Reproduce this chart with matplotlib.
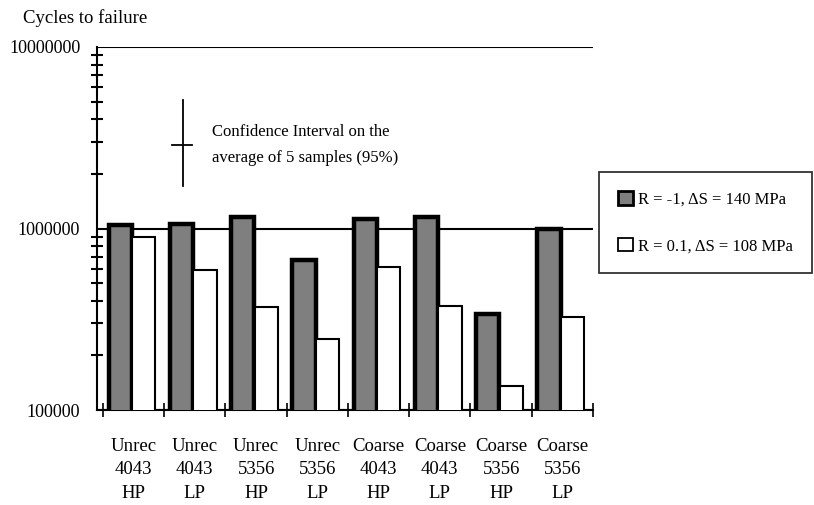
"""Cycles to failure for unrecrystallised / coarse welds, two loading conditions."""

import matplotlib

matplotlib.use("Agg")
import matplotlib.pyplot as plt
from matplotlib.patches import Patch
import numpy as np

plt.rcParams["font.family"] = ["Liberation Serif", "DejaVu Serif"]

CATEGORIES = [
    "Unrec\n4043\nHP", "Unrec\n4043\nLP", "Unrec\n5356\nHP", "Unrec\n5356\nLP",
    "Coarse\n4043\nHP", "Coarse\n4043\nLP", "Coarse\n5356\nHP", "Coarse\n5356\nLP",
]
# R = -1, dS = 140 MPa
CYCLES_R_NEG1 = [1.05e6, 1.06e6, 1.15e6, 6.7e5, 1.13e6, 1.15e6, 3.4e5, 1.0e6]
# R = 0.1, dS = 108 MPa
CYCLES_R_01 = [9.0e5, 5.9e5, 3.7e5, 2.45e5, 6.1e5, 3.75e5, 1.35e5, 3.25e5]
LABEL_R_NEG1 = "R = -1, \u0394S = 140 MPa"
LABEL_R_01 = "R = 0.1, \u0394S = 108 MPa"

DARK = "#7f7f7f"

fig = plt.figure(figsize=(8.14, 5.05), dpi=100)
ax = fig.add_axes([0.119, 0.188, 0.6095, 0.719])

x = np.arange(len(CATEGORIES))
ax.bar(x + 0.28, CYCLES_R_NEG1, width=0.38, color=DARK,
       edgecolor="black", linewidth=3.2, zorder=3)
ax.bar(x + 0.665, CYCLES_R_01, width=0.38, color="white",
       edgecolor="black", linewidth=1.5, zorder=3)

ax.set_yscale("log")
ax.set_ylim(1e5, 1e7)
ax.set_xlim(-0.1, len(CATEGORIES))
ax.set_axisbelow(True)
ax.yaxis.grid(True, which="major", color="black", linewidth=1.5)

for side in ("top", "right"):
    ax.spines[side].set_visible(False)
ax.spines["left"].set_linewidth(1.5)
ax.spines["bottom"].set_linewidth(1.5)

ax.set_yticks([1e5, 1e6, 1e7])
ax.set_yticklabels(["100000", "1000000", "10000000"], fontsize=13)
ax.yaxis.set_minor_locator(matplotlib.ticker.LogLocator(base=10, subs=np.arange(2, 10)))
ax.yaxis.set_minor_formatter(matplotlib.ticker.NullFormatter())
ax.tick_params(axis="y", which="minor", direction="inout", length=9, width=1.5)
ax.tick_params(axis="y", which="major", length=0, pad=12)

ax.set_xticks(np.arange(len(CATEGORIES) + 1))
ax.set_xticklabels([])
ax.set_xticks(x + 0.5, minor=True)
ax.set_xticklabels(CATEGORIES, minor=True, fontsize=13.5, linespacing=1.5)
ax.tick_params(axis="x", which="major", direction="inout", length=10, width=1.2)
ax.tick_params(axis="x", which="minor", length=0, pad=20)

# confidence interval marker
ax.plot([1.3, 1.3], [1.71e6, 5.1e6], color="black", linewidth=1.3)
ax.plot([1.12, 1.46], [2.88e6, 2.88e6], color="black", linewidth=1.3)
ax.text(1.78, 2.88e6, "Confidence Interval on the\naverage of 5 samples (95%)",
        ha="left", va="center", fontsize=12, linespacing=1.8)

fig.text(0.028, 0.965, "Cycles to failure", fontsize=13.5, ha="left", va="center")

handles = [
    Patch(facecolor=DARK, edgecolor="black", linewidth=2, label=LABEL_R_NEG1),
    Patch(facecolor="white", edgecolor="black", linewidth=1.3, label=LABEL_R_01),
]
leg = fig.legend(handles=handles, loc="upper left", bbox_to_anchor=(0.736, 0.66),
                 fontsize=12, frameon=True, fancybox=False, handlelength=0.9,
                 handleheight=0.9, handletextpad=0.3, labelspacing=1.8,
                 borderpad=1.15, borderaxespad=0)
leg.get_frame().set_edgecolor("black")
leg.get_frame().set_linewidth(1.3)

fig.savefig("out.png", dpi=100)
